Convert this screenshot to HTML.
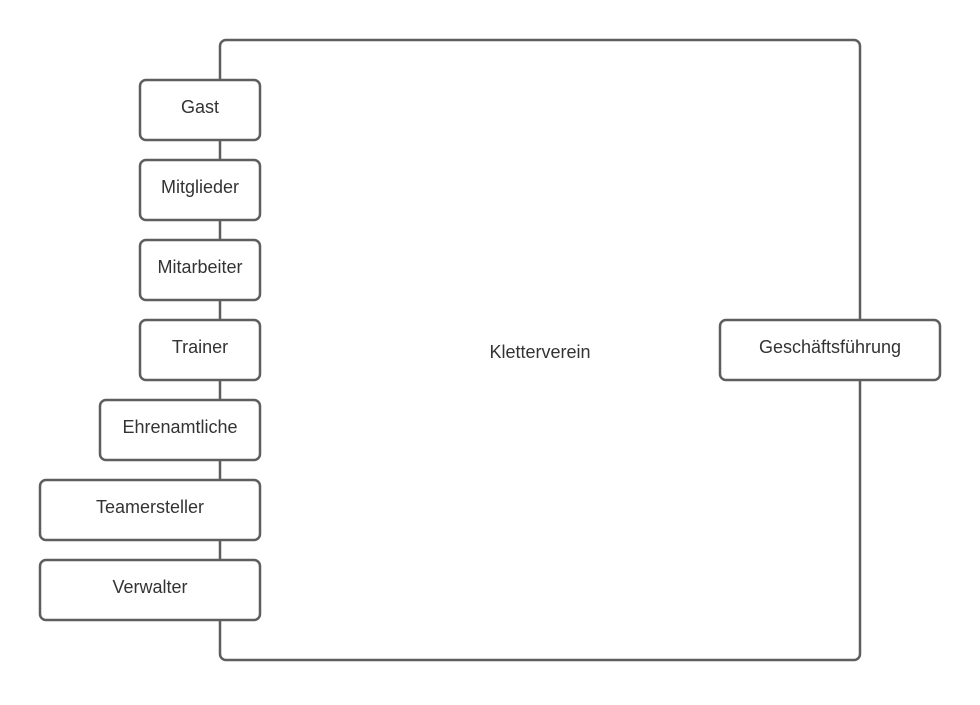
<!DOCTYPE html>
<html><head><meta charset="utf-8"><style>
body{margin:0;background:#fff;width:980px;height:700px;overflow:hidden}
</style></head><body>
<svg width="980" height="700" xmlns="http://www.w3.org/2000/svg" font-family="Liberation Sans, sans-serif" font-size="18" fill="#333">
<g fill="none" stroke="#5e5e5e" stroke-width="2.5">
<rect x="220" y="40" width="640" height="620" rx="6"/>
</g>
<g fill="#fff" stroke="#5e5e5e" stroke-width="2.5">
<rect x="140" y="80" width="120" height="60" rx="6"/>
<rect x="140" y="160" width="120" height="60" rx="6"/>
<rect x="140" y="240" width="120" height="60" rx="6"/>
<rect x="140" y="320" width="120" height="60" rx="6"/>
<rect x="100" y="400" width="160" height="60" rx="6"/>
<rect x="40" y="480" width="220" height="60" rx="6"/>
<rect x="40" y="560" width="220" height="60" rx="6"/>
<rect x="720" y="320" width="220" height="60" rx="6"/>
</g>
<g text-anchor="middle" fill="#333">
<text x="200" y="113">Gast</text>
<text x="200" y="193">Mitglieder</text>
<text x="200" y="273">Mitarbeiter</text>
<text x="200" y="353">Trainer</text>
<text x="180" y="433">Ehrenamtliche</text>
<text x="150" y="513">Teamersteller</text>
<text x="150" y="593">Verwalter</text>
<text x="830" y="353">Geschäftsführung</text>
<text x="540" y="358">Kletterverein</text>
</g>
</svg>
</body></html>
